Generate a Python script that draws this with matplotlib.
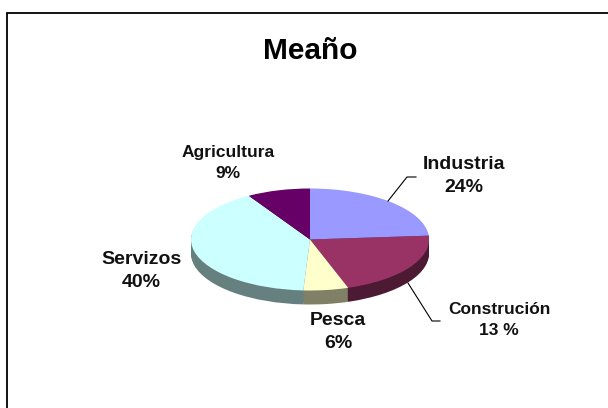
import matplotlib
matplotlib.use("Agg")
import matplotlib.pyplot as plt

plt.rcParams['font.family'] = ['Liberation Sans', 'DejaVu Sans']

W, H = 608, 408

names = ['Industria', 'Construción', 'Pesca', 'Servizos', 'Agricultura']
pct_labels = ['24%', '13 %', '6%', '40%', '9%']
# slice sizes as drawn in the picture (the printed 13% slice is drawn wider)
shares = [23.8, 21.0, 6.1, 40.5, 8.6]
top_colors = ['#9999FF', '#993366', '#FFFFCC', '#CCFFFF', '#660066']
side_colors = ['#4D4D80', '#4D1A33', '#808066', '#668080', '#330033']

fig = plt.figure(figsize=(W / 100, H / 100), dpi=100)

# overlay in pixel coords for frame, title, labels
bg = fig.add_axes([0, 0, 1, 1])
bg.set_xlim(0, W)
bg.set_ylim(H, 0)
bg.axis('off')
bg.plot([6.5, 6.5, W], [H, 12.5, 12.5], color='black', lw=1.3, solid_joinstyle='miter')

bg.text(310.5, 51, 'Meaño', fontsize=21.5, fontweight='bold', ha='center', va='center')

# pie axes: one data unit = half of the ellipse
cx, cy, a, b, depth = 310, 239.5, 119, 51, 14
ax = fig.add_axes([(cx - a) / W, 1 - (cy + b + depth) / H, 2 * a / W, (2 * b + depth) / H])
unit = 1 / b
for i in range(depth, 0, -1):
    ax.pie(shares, colors=side_colors, startangle=90, counterclock=False,
           center=(0, -i * unit), radius=1)
ax.pie(shares, colors=top_colors, startangle=90, counterclock=False, center=(0, 0), radius=1)
ax.set_aspect('auto')
ax.set_xlim(-1, 1)
ax.set_ylim(-1 - depth * unit, 1)
ax.patch.set_alpha(0)

# leader lines
bg.plot([388, 407, 416], [201, 177, 177], color='black', lw=0.8)
bg.plot([408, 432, 440], [283, 321, 321], color='black', lw=0.8)

label_pos = [(464, 176, 14), (499, 320, 12.5), (338, 332, 14), (141, 271, 14), (228, 163, 12.5)]
for name, pct, (x, y, fs) in zip(names, pct_labels, label_pos):
    bg.text(x, y, name + '\n' + pct, fontsize=fs, fontweight='bold', ha='center', va='center',
            linespacing=1.5, color='#111111')

bg.set_zorder(2)
fig.savefig('out.png', dpi=100)
